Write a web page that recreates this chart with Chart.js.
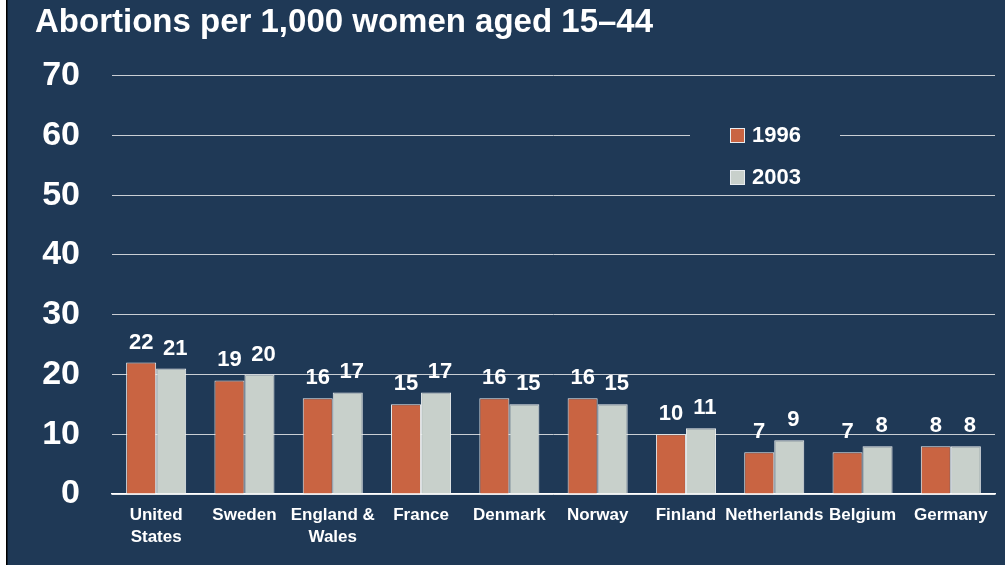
<!DOCTYPE html>
<html lang="en">
<head>
    <meta charset="UTF-8">
    <title>Abortions per 1,000 women aged 15-44</title>
    <style>
        html, body { margin: 0; padding: 0; background: #1f3956; }
        #wrap { width: 1005px; height: 565px; }
    </style>
</head>
<body>
    <div id="wrap">
        <canvas id="myChart" width="1005" height="565"></canvas>
    </div>
    <script src="https://cdn.jsdelivr.net/npm/chart.js"></script>
    <script>
        // data
        var countries = [['United', 'States'], 'Sweden', ['England &', 'Wales'], 'France', 'Denmark',
            'Norway', 'Finland', 'Netherlands', 'Belgium', 'Germany'];
        var rate1996 = [22, 19, 16, 15, 16, 16, 10, 7, 7, 8];
        var rate2003 = [21, 20, 17, 17, 15, 15, 11, 9, 8, 8];
        var yTicks = [0, 10, 20, 30, 40, 50, 60, 70];

        var NAVY = '#1f3956';
        var FONT = 'Arial, "Liberation Sans", sans-serif';

        // slide background + the little white/black strip on the left
        var bgPlugin = {
            id: 'bg',
            beforeDraw: function (chart) {
                var c = chart.ctx;
                c.save();
                c.fillStyle = NAVY;
                c.fillRect(0, 0, chart.width, chart.height);
                c.fillStyle = '#ffffff';
                c.fillRect(0, 0, 6, chart.height);
                c.fillStyle = '#000000';
                c.fillRect(6, 0, 1.5, chart.height);
                c.restore();
            }
        };

        // value labels over the bars + legend box sitting inside the plot
        var labelPlugin = {
            id: 'labels',
            afterDatasetsDraw: function (chart) {
                var c = chart.ctx;
                c.save();
                c.fillStyle = '#ffffff';
                c.font = 'bold 22px ' + FONT;
                c.textAlign = 'center';
                c.textBaseline = 'middle';
                chart.data.datasets.forEach(function (ds, i) {
                    chart.getDatasetMeta(i).data.forEach(function (bar, j) {
                        c.fillText(ds.data[j], bar.x + i * 4, bar.y - 20);
                    });
                });

                // legend
                c.fillStyle = NAVY;
                c.fillRect(690, 115, 150, 75);
                c.font = 'bold 22px ' + FONT;
                c.textAlign = 'left';
                chart.data.datasets.forEach(function (ds, i) {
                    var y = 135 + i * 42;
                    c.fillStyle = ds.backgroundColor;
                    c.fillRect(730, y - 7, 15, 15);
                    c.strokeStyle = '#e8ecef';
                    c.lineWidth = 1;
                    c.strokeRect(730.5, y - 6.5, 14, 14);
                    c.fillStyle = '#ffffff';
                    c.fillText(ds.label, 752, y + 1);
                });
                c.restore();
            }
        };

        var ctx = document.getElementById('myChart');
        var myChart = new Chart(ctx, {
            type: 'bar',
            data: {
                labels: countries,
                datasets: [{
                    label: '1996',
                    data: rate1996,
                    backgroundColor: '#c96442',
                    borderColor: '#eef0f0',
                    borderWidth: 1
                }, {
                    label: '2003',
                    data: rate2003,
                    backgroundColor: '#c8d0cb',
                    borderColor: '#eef0f0',
                    borderWidth: 1
                }]
            },
            options: {
                responsive: false,
                animation: false,
                devicePixelRatio: 1,
                datasets: {
                    bar: { categoryPercentage: 0.68, barPercentage: 1 }
                },
                layout: {
                    padding: { left: 35, right: 10, top: 0, bottom: 0 }
                },
                scales: {
                    x: {
                        grid: { display: false, drawTicks: false },
                        border: { color: '#ffffff', width: 1.5 },
                        ticks: {
                            color: '#ffffff',
                            font: { family: FONT, size: 17, weight: 'bold', lineHeight: 1.3 },
                            padding: 10,
                            maxRotation: 0,
                            autoSkip: false
                        },
                        afterFit: function (s) { s.height = 71; }
                    },
                    y: {
                        min: 0,
                        max: 70,
                        afterBuildTicks: function (s) {
                            s.ticks = yTicks.map(function (v) { return { value: v }; });
                        },
                        grid: { color: '#c9ced4', lineWidth: 1, drawTicks: false },
                        border: { display: false },
                        ticks: {
                            color: '#ffffff',
                            font: { family: FONT, size: 34, weight: 'bold' },
                            padding: 32
                        },
                        afterFit: function (s) { s.width = 77; }
                    }
                },
                plugins: {
                    legend: { display: false },
                    tooltip: { enabled: false },
                    title: {
                        display: true,
                        text: 'Abortions per 1,000 women aged 15–44',
                        align: 'start',
                        color: '#ffffff',
                        font: { family: FONT, size: 33, weight: 'bold' },
                        padding: { top: 3, bottom: 33 }
                    }
                }
            },
            plugins: [bgPlugin, labelPlugin]
        });
    </script>
</body>
</html>
